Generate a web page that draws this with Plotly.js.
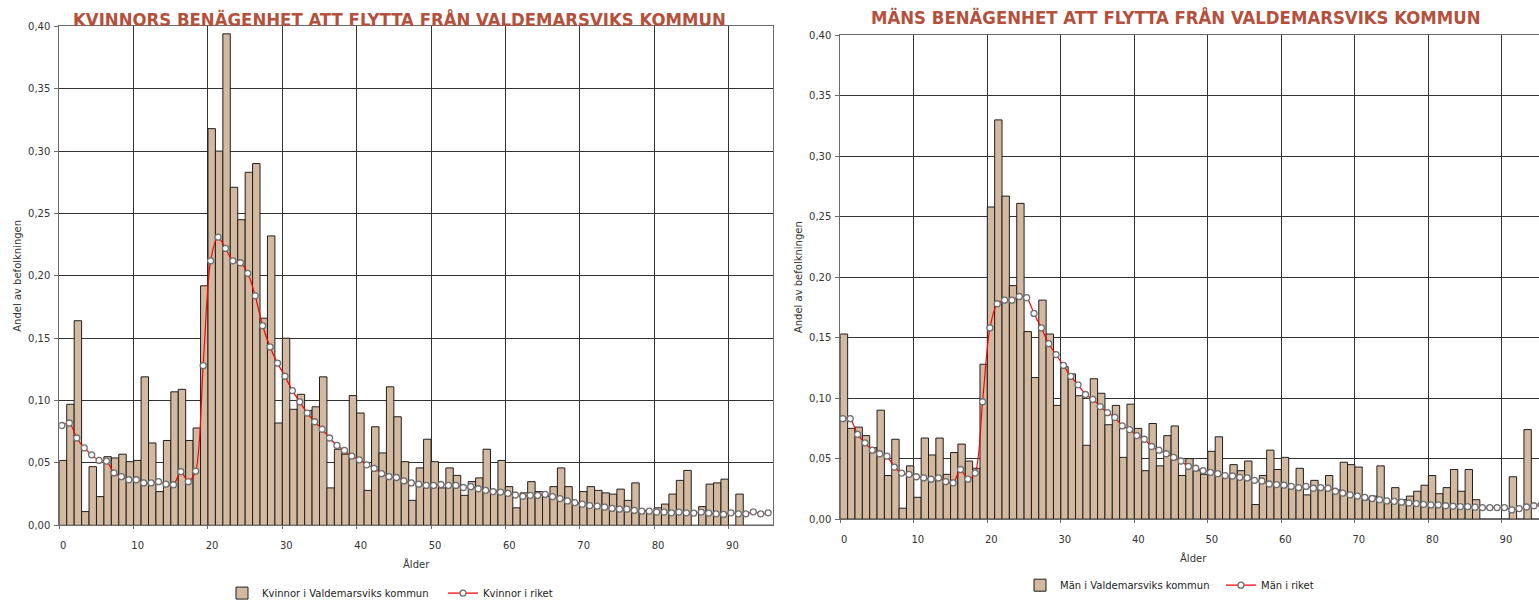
<!DOCTYPE html>
<html><head><meta charset="utf-8">
<script src="https://cdn.plot.ly/plotly-3.0.1.min.js"></script>
<style>html,body{margin:0;padding:0;overflow:hidden;background:#fff}#chart{width:1548px;height:608px}</style>
</head><body><div id="chart"></div>
<script>
const ages = [0,1,2,3,4,5,6,7,8,9,10,11,12,13,14,15,16,17,18,19,20,21,22,23,24,25,26,27,28,29,30,31,32,33,34,35,36,37,38,39,40,41,42,43,44,45,46,47,48,49,50,51,52,53,54,55,56,57,58,59,60,61,62,63,64,65,66,67,68,69,70,71,72,73,74,75,76,77,78,79,80,81,82,83,84,85,86,87,88,89,90,91,92,93,94,95];

const womenKommun = [0.052,0.097,0.164,0.011,0.047,0.023,0.055,0.054,0.057,0.051,
  0.052,0.119,0.066,0.027,0.068,0.107,0.109,0.068,0.078,0.192,
  0.318,0.300,0.394,0.271,0.245,0.283,0.290,0.166,0.232,0.082,
  0.150,0.093,0.105,0.092,0.095,0.119,0.030,0.061,0.057,0.104,
  0.090,0.028,0.079,0.058,0.111,0.087,0.051,0.020,0.046,0.069,
  0.051,0.030,0.046,0.040,0.024,0.035,0.038,0.061,0.028,0.052,
  0.031,0.014,0.026,0.035,0.027,0.023,0.031,0.046,0.031,0.018,
  0.027,0.031,0.028,0.026,0.025,0.029,0.020,0.034,0.012,0.011,
  0.014,0.017,0.025,0.036,0.044,0,0.015,0.033,0.034,0.037,
  0,0.025,0,0,0,0];

const womenRiket = [0.080,0.082,0.070,0.062,0.0565,0.052,0.0515,0.042,0.039,0.0365,
  0.0365,0.034,0.034,0.035,0.033,0.0325,0.043,0.035,0.0435,0.128,
  0.212,0.231,0.222,0.212,0.2105,0.202,0.184,0.160,0.143,0.130,
  0.1195,0.108,0.099,0.090,0.083,0.077,0.070,0.064,0.060,0.0555,
  0.0525,0.0485,0.0456,0.0414,0.039,0.0383,0.0356,0.034,0.033,0.032,
  0.032,0.0327,0.032,0.032,0.0303,0.031,0.0293,0.028,0.027,0.0266,
  0.0256,0.0243,0.0232,0.024,0.024,0.0248,0.023,0.0214,0.0195,0.0182,
  0.0169,0.0158,0.0153,0.0145,0.0135,0.0129,0.0129,0.0119,0.0113,0.0113,
  0.0106,0.0106,0.010,0.0106,0.010,0.0098,0.0106,0.0098,0.0092,0.0087,
  0.010,0.0092,0.0092,0.0108,0.0092,0.010];

const menKommun = [0.153,0.075,0.076,0.069,0.059,0.090,0.036,0.066,0.009,0.044,
  0.018,0.067,0.053,0.067,0.037,0.055,0.062,0.048,0.042,0.128,
  0.258,0.330,0.267,0.193,0.261,0.155,0.117,0.181,0.153,0.094,
  0.126,0.120,0.102,0.061,0.116,0.104,0.078,0.094,0.051,0.095,
  0.075,0.040,0.079,0.044,0.069,0.077,0.036,0.050,0.040,0.037,
  0.056,0.068,0.035,0.045,0.040,0.048,0.012,0.036,0.057,0.041,
  0.051,0.026,0.042,0.020,0.032,0.026,0.036,0.024,0.047,0.045,
  0.043,0.016,0.019,0.044,0.014,0.026,0.016,0.019,0.023,0.028,
  0.036,0.021,0.026,0.041,0.023,0.041,0.016,0,0,0,
  0,0.035,0,0.074,0,0];

const menRiket = [0.083,0.083,0.070,0.063,0.057,0.054,0.052,0.043,0.038,0.037,
  0.035,0.034,0.033,0.034,0.031,0.030,0.041,0.033,0.038,0.097,
  0.158,0.178,0.181,0.181,0.184,0.183,0.170,0.158,0.145,0.136,
  0.127,0.118,0.111,0.103,0.099,0.093,0.088,0.084,0.077,0.074,
  0.069,0.066,0.060,0.057,0.054,0.051,0.048,0.0435,0.042,0.040,
  0.0386,0.0375,0.036,0.0356,0.0345,0.034,0.032,0.0315,0.029,0.0285,
  0.028,0.027,0.026,0.027,0.0255,0.026,0.0255,0.023,0.0215,0.020,
  0.019,0.018,0.017,0.016,0.015,0.0147,0.014,0.0133,0.0128,0.0122,
  0.0117,0.0117,0.011,0.0106,0.0103,0.0103,0.0098,0.0095,0.0095,0.0095,
  0.0095,0.0076,0.0087,0.010,0.011,0.012];

const ageTickVals = [0,10,20,30,40,50,60,70,80,90];
const ageTickText = ['0','10','20','30','40','50','60','70','80','90'];
const yTickVals = [0,0.05,0.10,0.15,0.20,0.25,0.30,0.35,0.40];

const titleLeft = 'KVINNORS BENÄGENHET ATT FLYTTA FRÅN VALDEMARSVIKS KOMMUN';
const titleRight = 'MÄNS BENÄGENHET ATT FLYTTA FRÅN VALDEMARSVIKS KOMMUN';

const W = 1548, H = 608;
const px = v => v / W;
const py = v => 1 - v / H;

const BAR_FILL = '#D2B9A0';
const BAR_EDGE = '#1f1f1f';
const GRID = '#333333';
const AXIS = '#6a6a6a';
const TXT = '#333333';
const SMALL = {family: 'DejaVu Sans, Verdana, sans-serif', size: 10, color: TXT};

function barTrace(y, name, xa, ya, lg) {
  return {type: 'bar', x: ages.map(a => a + 0.5), y: y, width: 1, name: name,
    xaxis: xa, yaxis: ya, legend: lg,
    marker: {color: BAR_FILL, line: {color: BAR_EDGE, width: 1}},
    hoverinfo: 'x+y'};
}
function lineTrace(y, name, xa, ya, lg) {
  return {type: 'scatter', mode: 'lines+markers', x: ages.map(a => a + 0.35), y: y, name: name,
    xaxis: xa, yaxis: ya, legend: lg,
    line: {color: '#ff0000', width: 1.2, shape: 'spline', smoothing: 0.8},
    marker: {symbol: 'circle', size: 6, color: '#ffffff', line: {color: '#6f6f6f', width: 1.3}}};
}

const data = [
  barTrace(womenKommun, 'Kvinnor i Valdemarsviks kommun', 'x', 'y', 'legend'),
  lineTrace(womenRiket, 'Kvinnor i riket', 'x', 'y', 'legend'),
  barTrace(menKommun, 'Män i Valdemarsviks kommun', 'x2', 'y2', 'legend2'),
  lineTrace(menRiket, 'Män i riket', 'x2', 'y2', 'legend2')
];

function xAxis(domain, anchor) {
  return {domain: domain, anchor: anchor, range: [0, 96], fixedrange: true,
    tickmode: 'array', tickvals: ageTickVals, ticktext: ageTickText,
    showgrid: true, gridcolor: GRID, gridwidth: 1, zeroline: false,
    showline: true, mirror: true, linecolor: AXIS, linewidth: 1,
    ticks: 'outside', ticklen: 3, tickcolor: AXIS, ticklabelshift: 4, ticklabelstandoff: 8,
    tickfont: SMALL, automargin: false,
    title: {text: 'Ålder', font: SMALL, standoff: 10}};
}
function yAxis(domain, anchor) {
  return {domain: domain, anchor: anchor, range: [0, 0.40], fixedrange: true,
    tickmode: 'array', tickvals: yTickVals, tickformat: '.2f',
    showgrid: true, gridcolor: GRID, gridwidth: 1, zeroline: false,
    showline: true, mirror: true, linecolor: AXIS, linewidth: 1,
    ticks: 'outside', ticklen: 4, tickcolor: AXIS, ticklabelstandoff: 2,
    tickfont: SMALL, automargin: false,
    title: {text: 'Andel av befolkningen', font: SMALL, standoff: 4}};
}

const titleFont = {family: 'DejaVu Sans Condensed, DejaVu Sans, sans-serif', size: 18.4, color: '#B4503B', weight: 'bold'};

const layout = {
  width: W, height: H,
  margin: {l: 0, r: 0, t: 0, b: 0, pad: 0},
  paper_bgcolor: '#ffffff', plot_bgcolor: '#ffffff',
  separators: ', ',
  bargap: 0,
  barmode: 'overlay',
  xaxis: xAxis([px(59.3), px(773)], 'y'),
  yaxis: yAxis([py(532.3), py(26.7)], 'x'),
  xaxis2: xAxis([px(840.3), px(1546)], 'y2'),
  yaxis2: yAxis([py(526), py(35.7)], 'x2'),
  legend: {orientation: 'h', x: px(222), y: py(601), xanchor: 'left', yanchor: 'middle',
    font: {family: 'DejaVu Sans, sans-serif', size: 10, color: '#222'}, bgcolor: 'rgba(0,0,0,0)',
    itemwidth: 30, entrywidth: 176, entrywidthmode: 'pixels', traceorder: 'normal'},
  legend2: {orientation: 'h', x: px(1020), y: py(593), xanchor: 'left', yanchor: 'middle',
    font: {family: 'DejaVu Sans, sans-serif', size: 10, color: '#222'}, bgcolor: 'rgba(0,0,0,0)',
    itemwidth: 30, entrywidth: 156, entrywidthmode: 'pixels', traceorder: 'normal'},
  annotations: [
    {text: titleLeft, x: px(399), y: py(19.5), xref: 'paper', yref: 'paper',
     xanchor: 'center', yanchor: 'middle', showarrow: false, font: titleFont},
    {text: titleRight, x: px(1176), y: py(17.7), xref: 'paper', yref: 'paper',
     xanchor: 'center', yanchor: 'middle', showarrow: false, font: titleFont}
  ],
  showlegend: true
};

Plotly.newPlot('chart', data, layout, {displayModeBar: false, staticPlot: true});
</script>
</body></html>
